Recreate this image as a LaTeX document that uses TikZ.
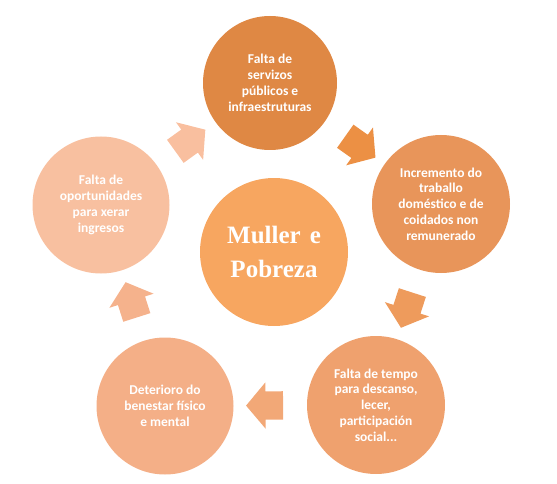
\documentclass[tikz,border=0pt]{standalone}
\usepackage{fontspec}
\setmainfont{Carlito}
\newfontfamily\titlefont{Liberation Serif}
\usetikzlibrary{shapes.arrows,calc}

\definecolor{cServizos}{HTML}{DF8844}
\definecolor{cTraballo}{HTML}{E8955A}
\definecolor{cTempo}{HTML}{EFA16E}
\definecolor{cBenestar}{HTML}{F4AF87}
\definecolor{cIngresos}{HTML}{F8C0A0}
\definecolor{cCentro}{HTML}{F7A660}
\definecolor{fA}{HTML}{F9BF9F}
\definecolor{fB}{HTML}{EC9044}
\definecolor{fC}{HTML}{EE9B5C}
\definecolor{fD}{HTML}{F2A877}
\definecolor{fE}{HTML}{F5B28C}

\tikzset{
  causa/.style={circle, minimum size=137pt, inner sep=0pt, text=white,
    font=\bfseries\fontsize{13.5}{15.8}\selectfont, align=center},
  frecha/.style={single arrow, draw=none, minimum height=37pt,
    single arrow head extend=9pt, single arrow tip angle=100,
    inner xsep=0pt, inner ysep=14pt}
}

\begin{document}
\begin{tikzpicture}[x=1pt,y=1pt]
  \useasboundingbox (0,0) rectangle (557,483);
  % circulos do ciclo
  \node[causa, fill=cServizos, minimum size=134pt] (servizos) at (270,400) {Falta de\\servizos\\públicos e\\infraestruturas};
  \node[causa, fill=cTraballo, minimum size=138pt] (traballo) at (441,279) {Incremento do\\traballo\\doméstico e de\\coidados non\\remunerado};
  \node[causa, fill=cTempo, minimum size=138pt] (tempo) at (376,78) {Falta de tempo\\para descanso,\\lecer,\\participación\\social...};
  \node[causa, fill=cBenestar] (benestar) at (165,77) {Deterioro do\\benestar físico\\e mental};
  \node[causa, fill=cIngresos] (ingresos) at (101,278) {Falta de\\oportunidades\\para xerar\\ingresos};
  \node[circle, fill=cCentro, minimum size=148pt, inner sep=0pt, text=white, align=center,
    font=\titlefont\bfseries\fontsize{25}{34}\selectfont] (centro) at (274,231) {Muller\hspace{9pt}e\\Pobreza};
  % frechas entre circulos
  \foreach \a/\b/\c in {ingresos/servizos/fA, servizos/traballo/fB, traballo/tempo/fC, tempo/benestar/fD, benestar/ingresos/fE}
    \path let \p1=($(\b)-(\a)$), \n1={atan2(\y1,\x1)} in
      node[frecha, fill=\c, rotate=\n1] (f-\a) at ($(\a)!0.5!(\b)$) {};
\end{tikzpicture}
\end{document}
